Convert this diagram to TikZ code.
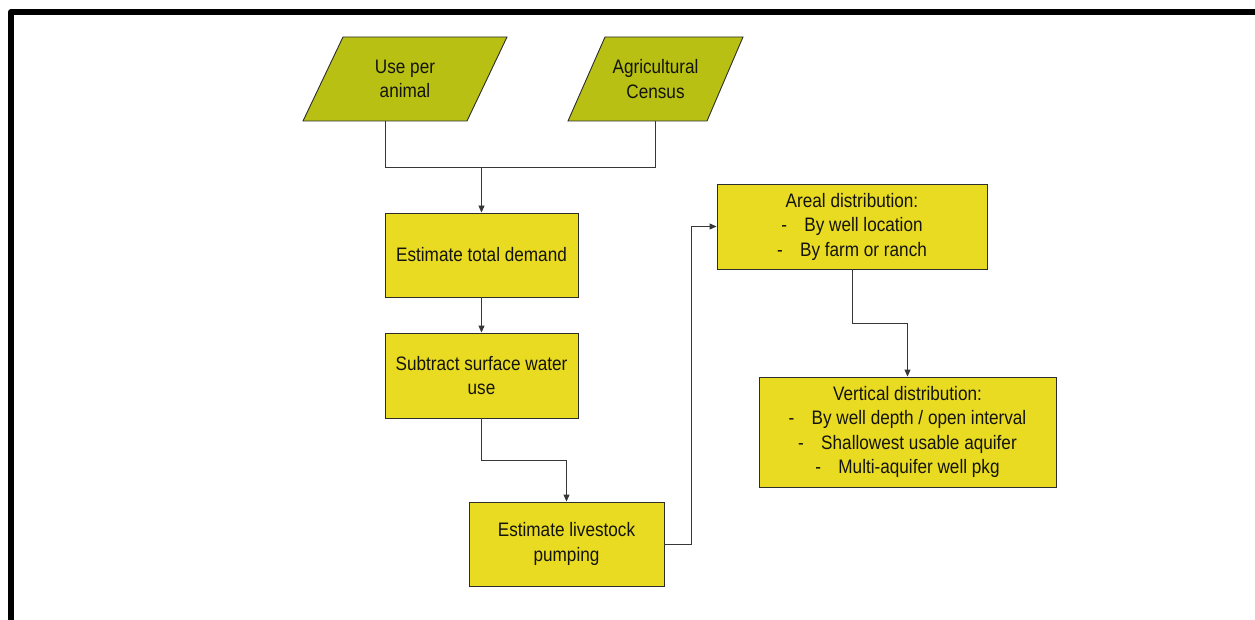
\documentclass[tikz,border=0pt]{standalone}
\usepackage{fontspec}
\setmainfont{Liberation Sans}[FakeStretch=0.88]
\usetikzlibrary{arrows.meta,calc}
\definecolor{olivefill}{RGB}{183,192,19}
\definecolor{boxfill}{RGB}{233,219,34}
\definecolor{edge}{RGB}{45,45,45}
\definecolor{conncol}{RGB}{55,55,55}
\definecolor{txt}{RGB}{20,20,15}
\tikzset{
  x=1pt, y=-1pt,
  every node/.style={font=\fontsize{19.5}{24.5}\selectfont, text=txt, inner sep=0pt, align=center},
  para/.style={fill=olivefill, draw=edge, line width=0.9pt},
  paratext/.style={minimum width=164, minimum height=84},
  stepbox/.style={rectangle, fill=boxfill, draw=edge, line width=0.9pt},
  conn/.style={draw=conncol, line width=0.9pt},
  arr/.style={conn, -{Triangle[length=7pt,width=6pt]}}
}
\newcommand{\ditem}[1]{\makebox[7pt][l]{-}\hspace{16pt}#1}
\begin{document}
\begin{tikzpicture}
\useasboundingbox (0,0) rectangle (1255,620);
\begin{scope}
\clip (0,0) rectangle (1255,620);
\draw[line width=6pt, line join=round] (11,625) -- (11,12) -- (1260,12);
\end{scope}

% input parallelograms
\draw[para] (343,37) -- (507,37) -- (467,121) -- (303,121) -- cycle;
\node[paratext] (use) at (405,79) {Use per\\animal};
\draw[para] (605,37) -- (743,37) -- (707,121) -- (568,121) -- cycle;
\node[paratext, minimum width=138] (census) at (655.5,79) {Agricultural\\Census};

% process boxes
\node[stepbox, minimum width=193, minimum height=84] (demand) at (481.5,255) {Estimate total demand};
\node[stepbox, minimum width=193, minimum height=85] (subtract) at (481.5,375.5) {Subtract surface water\\use};
\node[stepbox, minimum width=195, minimum height=84] (pump) at (566.5,544) {Estimate livestock\\pumping};
\node[stepbox, minimum width=270, minimum height=85] (areal) at (852,226.5) {Areal distribution:\\\ditem{By well location}\\\ditem{By farm or ranch}};
\node[stepbox, minimum width=297, minimum height=110] (vert) at (907.5,432) {Vertical distribution:\\\ditem{By well depth / open interval}\\\ditem{Shallowest usable aquifer}\\\ditem{Multi-aquifer well pkg}};

% connectors
\coordinate (join) at (481.5,167);
\draw[conn] ($(use.south)+(-20,0)$) |- (join);
\draw[conn] (census.south) |- (join);
\draw[arr] (join) -- (demand.north);
\draw[arr] (demand.south) -- (subtract.north);
\draw[arr] (subtract.south) -- ++(0,42) -| (pump.north);
\draw[arr] (pump.east) -- ++(27,0) |- (areal.west);
\draw[arr] (areal.south) -- ++(0,54) -| (vert.north);
\end{tikzpicture}
\end{document}
